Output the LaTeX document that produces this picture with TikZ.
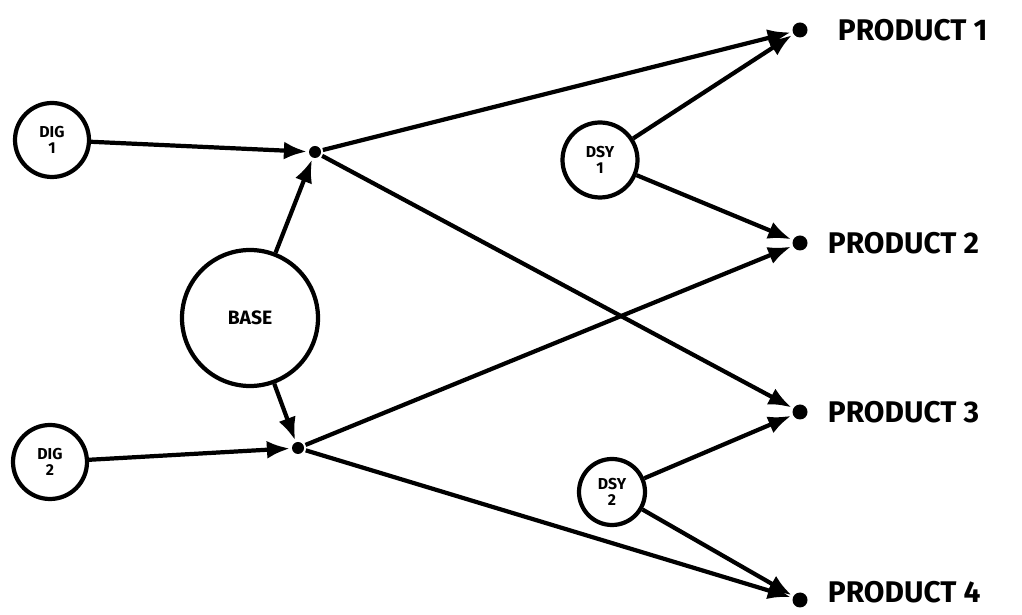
\documentclass[tikz,border=0pt]{standalone}
\usepackage{fontspec}
\setsansfont{Fira Sans}
\usetikzlibrary{arrows.meta, positioning}

\begin{document}
\begin{tikzpicture}[font=\sffamily\bfseries,
		line width=2.4pt,
		src/.style={circle, draw, minimum size=1.48cm, inner sep=0pt, align=center,
			font=\fontsize{9}{9}\selectfont\sffamily\bfseries},
		jn/.style={circle, fill, minimum size=0.24cm, inner sep=0pt},
		prod/.style={circle, fill, minimum size=0.3cm, inner sep=0pt},
		plabel/.style={right, font=\fontsize{17}{18}\selectfont\sffamily\bfseries},
		feed/.style={-{Latex[length=0.46cm, width=0.36cm]}}]
	\useasboundingbox (0,0) rectangle (20.44,12.3);
	% sources
	\node[src] (dig1) at (1.04,9.5) {DIG\\1};
	\node[src] (dig2) at (1.0,3.06) {DIG\\2};
	\node[src, minimum size=2.72cm, font=\fontsize{11}{11}\selectfont\sffamily\bfseries] (base) at (5.0,5.94) {BASE};
	\node[src, minimum size=1.5cm] (dsy1) at (12.0,9.1) {DSY\\1};
	\node[src, minimum size=1.32cm] (dsy2) at (12.24,2.46) {DSY\\2};
	% junctions
	\node[jn] (jn1) at (6.3,9.26) {};
	\node[jn] (jn2) at (5.96,3.34) {};
	% products
	\node[prod] (prod1) at (16.0,11.7) {};
	\node[prod] (prod2) at (16.0,7.44) {};
	\node[prod] (prod3) at (16.0,4.06) {};
	\node[prod] (prod4) at (16.0,0.3) {};
	\node[plabel] (lab1) at (16.6,11.7) {PRODUCT 1};
	\node[plabel] (lab2) at (16.4,7.44) {PRODUCT 2};
	\node[plabel] (lab3) at (16.4,4.06) {PRODUCT 3};
	\node[plabel] (lab4) at (16.4,0.46) {PRODUCT 4};
	% edges
	\draw[feed] (dig1) -- (jn1);
	\draw[feed] (base) -- (jn1);
	\draw[feed] (base) -- (jn2);
	\draw[feed] (dig2) -- (jn2);
	\draw[feed] (jn1) -- (prod1);
	\draw[feed] (jn1) -- (prod3);
	\draw[feed] (jn2) -- (prod2);
	\draw[feed] (jn2) -- (prod4);
	\draw[feed] (dsy1) -- (prod1);
	\draw[feed] (dsy1) -- (prod2);
	\draw[feed] (dsy2) -- (prod3);
	\draw[feed] (dsy2) -- (prod4);
\end{tikzpicture}
\end{document}
